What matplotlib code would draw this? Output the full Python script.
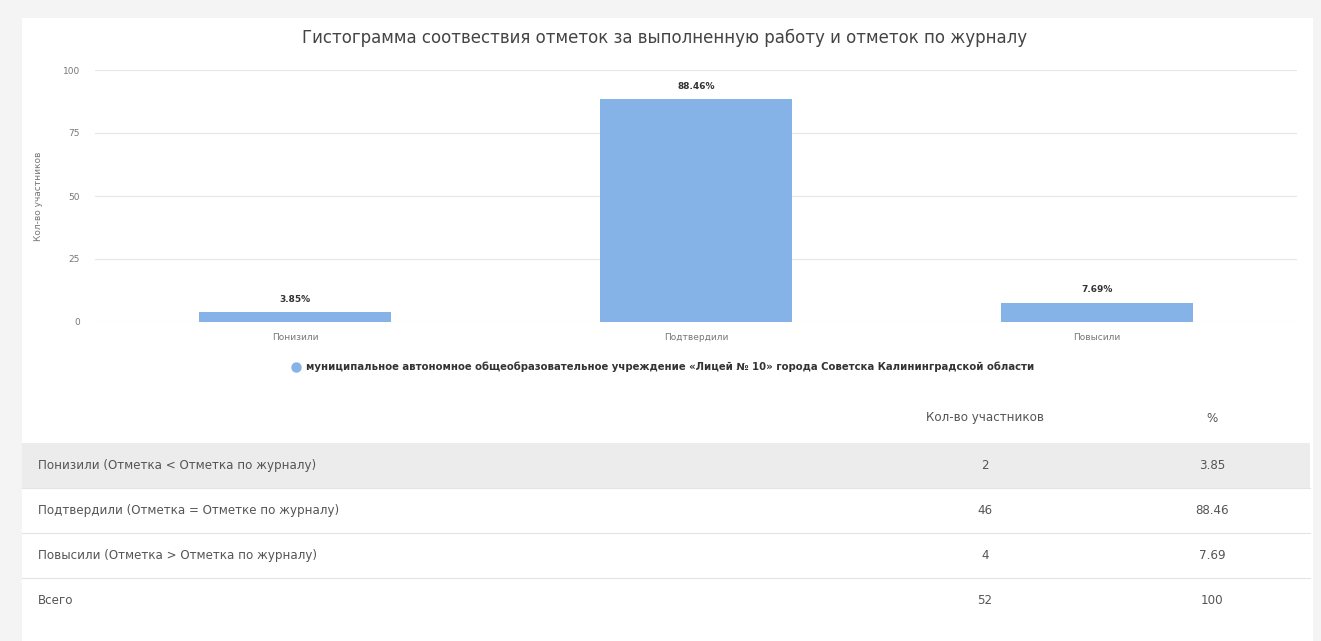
import matplotlib
matplotlib.use("Agg")
import matplotlib.pyplot as plt
from matplotlib.patches import Rectangle

plt.rcParams['font.family'] = ['DejaVu Sans']

categories = ['Понизили', 'Подтвердили', 'Повысили']
percents = [3.85, 88.46, 7.69]
row_labels = ['Понизили (Отметка < Отметка по журналу)',
              'Подтвердили (Отметка = Отметке по журналу)',
              'Повысили (Отметка > Отметка по журналу)',
              'Всего']
row_counts = ['2', '46', '4', '52']
row_percents = ['3.85', '88.46', '7.69', '100']
y_ticks = [0, 25, 50, 75, 100]
series_name = ('муниципальное автономное общеобразовательное учреждение '
               '«Лицей № 10» города Советска Калининградской области')

W, H = 1321, 641
fig = plt.figure(figsize=(W / 100, H / 100), dpi=100, facecolor='#f4f4f4')


def fx(x):
    return x / W


def fy(y):
    return 1 - y / H


# white card
fig.patches.append(Rectangle((fx(22), fy(641)), fx(1313) - fx(22), fy(18) - fy(641),
                             transform=fig.transFigure, facecolor='white',
                             edgecolor='none', zorder=-2))

bar_color = '#85b3e8'
ax = fig.add_axes([fx(95), fy(322), fx(1297) - fx(95), fy(70) - fy(322)])
ax.set_facecolor('none')
bars = ax.bar(range(len(categories)), percents, width=0.48, color=bar_color, zorder=2)
ax.set_xlim(-0.5, len(categories) - 0.5)
ax.set_ylim(0, 100)
ax.set_yticks(y_ticks)
ax.set_yticklabels([str(t) for t in y_ticks], fontsize=6.5, color='#777777')
ax.set_xticks(range(len(categories)))
ax.set_xticklabels(categories, fontsize=6.5, color='#777777')
ax.tick_params(axis='both', length=0)
ax.tick_params(axis='y', pad=11)
ax.tick_params(axis='x', pad=8)
ax.grid(axis='y', color='#e6e6e6', linewidth=0.8, zorder=0)
for s in ax.spines.values():
    s.set_visible(False)
ax.set_ylabel('Кол-во участников', fontsize=6.5, color='#777777', labelpad=14)

for b, p in zip(bars, percents):
    ax.annotate(f'{p:.2f}%', (b.get_x() + b.get_width() / 2, b.get_height()),
                xytext=(0, 6), textcoords='offset points', ha='center', va='bottom',
                fontsize=6.5, fontweight='bold', color='#333333')

fig.text(fx(665), fy(38), 'Гистограмма соотвествия отметок за выполненную работу и отметок по журналу',
         ha='center', va='center', fontsize=12.0, color='#444444')

# legend
fig.lines.append(plt.Line2D([fx(296)], [fy(367)], transform=fig.transFigure, marker='o',
                            markersize=6.5, color=bar_color, linestyle='none'))
fig.text(fx(306), fy(367), series_name, ha='left', va='center', fontsize=7.3,
         fontweight='bold', color='#333333')

# table
col_count_x = 985
col_pct_x = 1212
tfs = 8.6
fig.text(fx(col_count_x), fy(418), 'Кол-во участников', ha='center', va='center',
         fontsize=tfs, color='#555555')
fig.text(fx(col_pct_x), fy(418), '%', ha='center', va='center', fontsize=tfs, color='#555555')

row_top = 443
row_h = 45
for i, (lab, cnt, pct) in enumerate(zip(row_labels, row_counts, row_percents)):
    top = row_top + i * row_h
    if i == 0:
        fig.patches.append(Rectangle((fx(22), fy(top + row_h)), fx(1310) - fx(22),
                                     fy(top) - fy(top + row_h), transform=fig.transFigure,
                                     facecolor='#ececec', edgecolor='none', zorder=-1))
    else:
        fig.lines.append(plt.Line2D([fx(22), fx(1310)], [fy(top), fy(top)],
                                    transform=fig.transFigure, color='#e4e4e4', linewidth=0.8))
    cy = top + row_h / 2
    fig.text(fx(38), fy(cy), lab, ha='left', va='center', fontsize=tfs, color='#555555')
    fig.text(fx(col_count_x), fy(cy), cnt, ha='center', va='center', fontsize=tfs, color='#555555')
    fig.text(fx(col_pct_x), fy(cy), pct, ha='center', va='center', fontsize=tfs, color='#555555')

fig.savefig('out.png', dpi=100, facecolor=fig.get_facecolor())
